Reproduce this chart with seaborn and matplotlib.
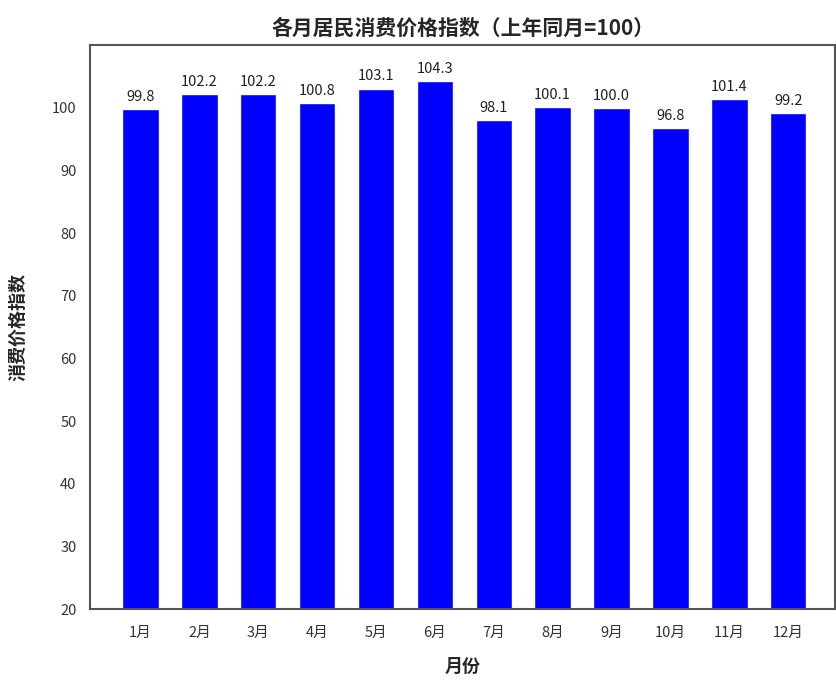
import matplotlib
matplotlib.use("Agg")
import matplotlib.pyplot as plt
import seaborn as sns
import pandas as pd

months = ["1月", "2月", "3月", "4月", "5月", "6月",
          "7月", "8月", "9月", "10月", "11月", "12月"]
index_values = [99.8, 102.2, 102.2, 100.8, 103.1, 104.3,
                98.1, 100.1, 100.0, 96.8, 101.4, 99.2]
y_ticks = [20, 30, 40, 50, 60, 70, 80, 90, 100]

sns.set_theme(style="white")
plt.rcParams["font.family"] = ["Noto Sans CJK SC", "DejaVu Sans"]
plt.rcParams["axes.unicode_minus"] = False

df = pd.DataFrame({"月份": months, "指数": index_values})

fig = plt.figure(figsize=(8.37, 6.86), dpi=100)
ax = fig.add_axes([0.108, 0.112, 0.89, 0.822])

sns.barplot(data=df, x="月份", y="指数", color="#0000ff", saturation=1,
            width=0.62, ax=ax)

for patch, v in zip(ax.patches, index_values):
    ax.text(patch.get_x() + patch.get_width() / 2, v + 0.8, f"{v:.1f}",
            ha="center", va="bottom", fontsize=10.5, color="#222222")

ax.set_ylim(20, 110)
ax.set_xlim(-0.85, 11.8)
ax.set_yticks(y_ticks)
ax.tick_params(axis="both", labelsize=10.5, colors="#333333", length=0)
ax.tick_params(axis="x", pad=12)
ax.tick_params(axis="y", pad=10)
ax.set_title("各月居民消费价格指数（上年同月=100）", fontsize=15,
             fontweight="bold", pad=8)
ax.set_xlabel("月份", fontsize=13, fontweight="bold", labelpad=12)
ax.set_ylabel("消费价格指数", fontsize=13, fontweight="bold", labelpad=18)
for s in ax.spines.values():
    s.set_color("#555555")
    s.set_linewidth(1.5)

fig.savefig("out.png", dpi=100)
